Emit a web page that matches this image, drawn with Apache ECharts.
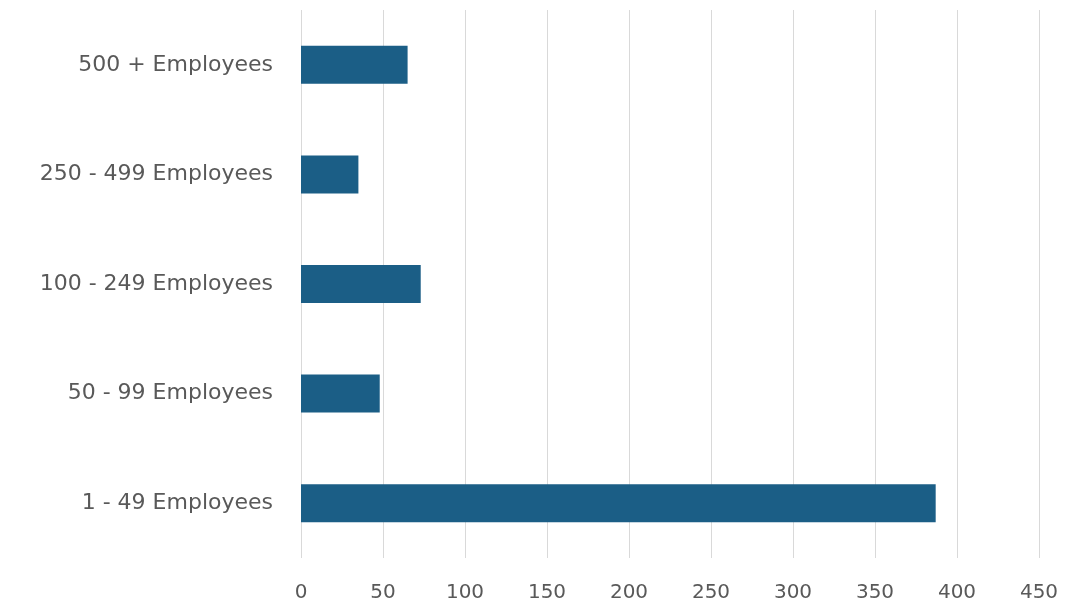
<!DOCTYPE html>
<html><head><meta charset="utf-8">
<script src="https://cdn.jsdelivr.net/npm/echarts@6/dist/echarts.min.js"></script>
<style>html,body{margin:0;padding:0;background:#fff}#c{width:1072px;height:610px}</style>
</head><body><div id="c"></div>
<script>
const categories = ["1 - 49 Employees", "50 - 99 Employees", "100 - 249 Employees", "250 - 499 Employees", "500 + Employees"];
const values = [387, 48, 73, 35, 65];
const xTicks = {min: 0, max: 450, interval: 50};

const chart = echarts.init(document.getElementById('c'), null, {renderer: 'canvas'});
chart.setOption({
  animation: false,
  backgroundColor: '#ffffff',
  grid: {left: 301, right: 33, top: 10, bottom: 52, containLabel: false},
  xAxis: {
    type: 'value', min: xTicks.min, max: xTicks.max, interval: xTicks.interval,
    axisLine: {show: false}, axisTick: {show: false},
    splitLine: {lineStyle: {color: '#d9d9d9', width: 1}},
    axisLabel: {color: '#595959', fontSize: 20, fontFamily: 'DejaVu Sans', margin: 25}
  },
  yAxis: {
    type: 'category', data: categories,
    axisLine: {show: false}, axisTick: {show: false},
    axisLabel: {color: '#595959', fontSize: 22, fontFamily: 'DejaVu Sans', margin: 28}
  },
  series: [{
    type: 'bar', data: values, barWidth: 38,
    itemStyle: {color: '#1b5e86'}
  }]
});
</script></body></html>
